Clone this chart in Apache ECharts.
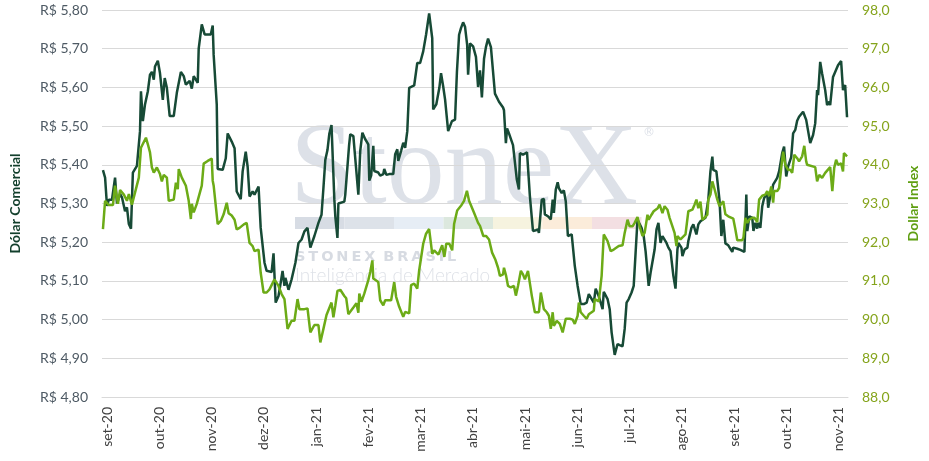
<!DOCTYPE html>
<html>
<head>
<meta charset="utf-8">
<title>Dólar Comercial x Dollar Index</title>
<script src="https://cdn.jsdelivr.net/npm/echarts@6.0.0/dist/echarts.min.js"></script>
<style>
  html, body { margin: 0; padding: 0; background: #fff; }
  #chart { width: 929px; height: 461px; }
</style>
</head>
<body>
<div id="chart"></div>
<script>
// x = trading-day index since the start of set-20 (one month label every 22 days)
var tickDays = [2, 24, 46, 68, 90, 112, 134, 156, 178, 200, 222, 244, 266, 288, 310];
var tickLabels = ['set-20', 'out-20', 'nov-20', 'dez-20', 'jan-21', 'fev-21', 'mar-21', 'abr-21',
    'mai-21', 'jun-21', 'jul-21', 'ago-21', 'set-21', 'out-21', 'nov-21'];

// Dólar comercial (R$), [day, value]
var brl = [
    [0.3,5.386],[1.2,5.367],[2.0,5.294],[2.8,5.31],[4.1,5.31],[5.4,5.367],[6.2,5.30],[7.5,5.325],[8.3,5.316],
    [9.6,5.28],[10.4,5.29],[11.2,5.247],[12.1,5.235],[12.9,5.38],[14.6,5.397],[15.9,5.487],[16.3,5.59],
    [17.1,5.513],[18.0,5.556],[19.2,5.59],[20.1,5.633],[20.9,5.64],[21.7,5.62],[22.2,5.654],[23.4,5.669],
    [24.3,5.637],[25.5,5.568],[26.3,5.624],[27.2,5.599],[28.4,5.526],[30.1,5.526],[31.4,5.586],[33.1,5.64],
    [34.3,5.629],[35.2,5.607],[36.8,5.617],[37.7,5.597],[38.5,5.629],[40.2,5.612],[40.6,5.70],[41.9,5.763],
    [42.7,5.763],[43.1,5.737],[45.7,5.737],[46.5,5.76],[46.9,5.684],[48.2,5.556],[48.6,5.389],[50.7,5.387],
    [52.0,5.417],[52.8,5.481],[54.5,5.46],[55.7,5.443],[56.6,5.331],[57.4,5.335],[58.3,5.311],[59.1,5.383],
    [60.4,5.434],[61.2,5.395],[62.0,5.318],[63.3,5.331],[64.1,5.323],[65.8,5.344],[66.7,5.237],[67.5,5.237],
    [68.3,5.147],[69.2,5.126],[71.3,5.123],[72.1,5.171],[73.0,5.044],[74.2,5.061],[75.0,5.091],[75.9,5.126],
    [76.7,5.087],[77.1,5.108],[78.4,5.077],[79.7,5.104],[81.3,5.147],[82.6,5.198],[83.9,5.207],[85.1,5.228],
    [86.4,5.237],[87.6,5.186],[89.3,5.216],[91.0,5.25],[92.3,5.271],[93.1,5.34],[93.9,5.413],[94.8,5.438],
    [95.6,5.481],[96.5,5.503],[97.7,5.31],[98.1,5.267],[99.0,5.211],[99.4,5.30],[100.2,5.305],[101.9,5.305],
    [102.3,5.323],[103.1,5.318],[103.9,5.45],[104.4,5.479],[105.7,5.474],[106.5,5.47],[107.8,5.323],
    [108.6,5.436],[109.5,5.483],[110.7,5.466],[112.0,5.453],[112.4,5.359],[113.2,5.372],[114.1,5.449],
    [114.5,5.384],[116.2,5.38],[117.0,5.372],[118.3,5.376],[118.7,5.389],[119.6,5.374],[120.8,5.376],
    [122.5,5.376],[123.3,5.427],[124.2,5.44],[124.6,5.41],[125.8,5.436],[126.7,5.457],[127.5,5.444],
    [128.4,5.487],[129.2,5.599],[130.0,5.603],[131.3,5.605],[132.6,5.663],[133.8,5.663],[135.1,5.693],
    [136.3,5.736],[137.6,5.791],[138.4,5.794],[138.9,5.727],[139.3,5.543],[140.6,5.556],[141.9,5.599],
    [142.6,5.637],[143.5,5.603],[144.3,5.569],[145.6,5.487],[147.2,5.513],[148.5,5.517],[149.3,5.641],
    [150.2,5.736],[151.0,5.753],[151.9,5.768],[152.7,5.757],[153.6,5.71],[154.0,5.633],[154.8,5.714],
    [156.1,5.706],[157.3,5.679],[158.2,5.601],[159.0,5.644],[159.8,5.574],[160.7,5.674],[161.5,5.704],
    [162.4,5.726],[163.6,5.704],[165.3,5.584],[167.0,5.563],[168.7,5.548],[169.1,5.541],[169.9,5.456],
    [170.4,5.494],[171.2,5.481],[172.9,5.451],[173.3,5.456],[174.5,5.362],[175.4,5.336],[175.8,5.43],
    [177.1,5.426],[177.9,5.422],[178.8,5.432],[179.2,5.43],[180.0,5.319],[181.3,5.229],[182.5,5.231],
    [183.4,5.233],[183.8,5.224],[185.0,5.31],[185.9,5.312],[186.3,5.272],[187.6,5.267],[188.8,5.259],
    [189.6,5.31],[190.1,5.276],[190.9,5.336],[191.7,5.355],[192.2,5.34],[193.4,5.327],[194.3,5.334],
    [195.1,5.306],[196.0,5.216],[197.6,5.22],[198.9,5.139],[200.1,5.087],[201.4,5.04],[202.7,5.04],
    [203.9,5.044],[204.8,5.066],[205.6,5.07],[206.9,5.044],[207.7,5.08],[209.0,5.06],[209.8,5.044],
    [210.6,5.027],[211.1,5.072],[212.7,5.053],[213.6,5.027],[214.4,4.967],[214.8,4.963],[215.7,4.909],
    [216.9,4.937],[217.8,4.934],[219.0,4.931],[219.9,4.976],[220.7,5.044],[221.6,5.053],[222.8,5.07],
    [223.7,5.087],[224.5,5.173],[225.3,5.258],[225.8,5.254],[227.0,5.237],[227.9,5.216],[228.7,5.177],
    [229.5,5.181],[230.0,5.087],[230.8,5.121],[231.6,5.121],[232.5,5.181],[233.3,5.233],[234.1,5.25],
    [235.0,5.198],[235.8,5.216],[236.2,5.211],[237.5,5.198],[238.3,5.186],[239.2,5.177],[240.0,5.177],
    [240.4,5.113],[241.3,5.08],[242.1,5.181],[242.5,5.198],[243.8,5.186],[244.2,5.164],[245.1,5.181],
    [246.3,5.186],[246.7,5.203],[248.0,5.237],[248.8,5.246],[250.1,5.22],[250.9,5.246],[251.8,5.254],
    [252.6,5.254],[253.9,5.263],[255.1,5.31],[256.0,5.383],[256.8,5.421],[257.2,5.387],[258.5,5.383],
    [259.3,5.383],[259.8,5.31],[260.6,5.216],[261.4,5.258],[262.3,5.197],[263.5,5.192],[265.2,5.175],
    [265.6,5.186],[267.3,5.183],[268.6,5.18],[270.3,5.175],[271.1,5.323],[271.5,5.229],[272.4,5.267],
    [273.6,5.263],[274.1,5.229],[274.9,5.25],[275.7,5.235],[276.1,5.25],[277.0,5.237],[277.8,5.293],
    [278.6,5.314],[279.9,5.327],[280.3,5.289],[281.2,5.319],[282.0,5.332],[282.4,5.349],[284.1,5.366],
    [284.9,5.383],[286.2,5.43],[287.0,5.447],[287.9,5.37],[288.7,5.396],[290.0,5.42],[290.8,5.481],
    [291.7,5.49],[292.5,5.514],[293.3,5.524],[295.0,5.537],[296.3,5.516],[297.1,5.511],[298.0,5.456],
    [299.2,5.477],[300.1,5.507],[300.9,5.593],[301.3,5.58],[302.2,5.666],[303.0,5.636],[304.3,5.593],
    [305.1,5.554],[306.0,5.563],[306.4,5.554],[307.6,5.627],[308.5,5.64],[309.7,5.657],[311.0,5.668],
    [311.4,5.668],[311.8,5.593],[312.7,5.606],[313.5,5.523]
];

// Dollar Index (DXY), [day, value]
var dxy = [
    [0.3,92.34],[1.2,93.07],[2.8,92.96],[4.5,92.96],[5.4,93.46],[6.6,92.99],[7.5,93.35],[9.1,93.23],
    [10.4,93.07],[11.2,93.24],[12.5,92.97],[13.3,92.99],[15.4,93.67],[16.3,94.44],[17.1,94.40],[18.4,94.70],
    [19.2,94.53],[20.1,94.32],[20.9,93.93],[21.7,93.80],[23.0,93.93],[24.3,93.76],[25.1,93.57],[25.9,93.74],
    [27.2,93.67],[28.0,93.07],[30.1,93.10],[31.0,93.54],[31.8,93.37],[32.2,93.89],[33.5,93.67],[35.2,93.46],
    [36.4,93.07],[37.3,92.60],[37.7,92.99],[38.5,92.77],[39.8,92.99],[40.6,92.94],[41.9,93.46],[42.7,94.03],
    [44.4,94.10],[46.1,94.16],[46.5,93.59],[46.9,93.46],[48.6,92.47],[49.9,92.55],[51.1,92.72],[52.4,93.02],
    [53.2,92.75],[54.5,92.69],[55.7,92.58],[56.6,92.33],[57.8,92.37],[59.6,92.46],[60.8,92.50],[62.0,91.98],
    [63.3,91.90],[64.1,91.77],[65.8,91.81],[66.7,91.21],[67.9,90.70],[69.2,90.70],[70.4,90.78],[72.5,91.04],
    [74.2,90.87],[75.5,90.66],[76.7,90.53],[78.0,89.76],[79.7,89.97],[80.9,89.97],[82.2,90.53],[83.0,90.27],
    [85.1,90.27],[86.4,90.29],[87.6,89.67],[89.3,89.86],[91.0,89.86],[91.8,89.41],[93.1,89.76],[94.4,90.12],
    [96.5,90.44],[97.3,90.06],[98.1,90.36],[99.0,90.74],[100.2,90.77],[101.9,90.61],[102.7,90.55],
    [103.6,90.14],[104.4,90.16],[105.7,90.31],[107.0,90.42],[107.8,90.18],[108.2,90.67],[109.1,90.46],
    [110.3,90.67],[112.0,91.02],[112.8,91.23],[113.7,91.53],[114.1,91.06],[116.2,90.97],[117.0,90.50],
    [118.3,90.37],[119.1,90.50],[121.6,90.50],[122.9,90.97],[123.7,90.59],[125.0,90.33],[126.7,90.07],
    [127.5,90.20],[129.2,90.16],[130.0,90.89],[131.3,90.93],[132.6,90.80],[133.4,91.27],[135.1,91.96],
    [136.3,92.22],[137.6,92.34],[138.9,91.70],[139.7,91.79],[141.5,91.68],[143.1,91.92],[144.0,91.62],
    [144.8,91.96],[146.1,91.96],[147.3,91.79],[148.1,92.47],[149.4,92.82],[151.0,92.94],[152.3,93.07],
    [153.5,93.33],[154.4,93.07],[155.2,93.02],[156.5,92.76],[158.2,92.50],[159.0,92.42],[160.4,92.16],
    [161.6,92.16],[162.8,92.07],[164.1,91.73],[165.4,91.56],[166.6,91.34],[167.4,91.13],[168.7,91.17],
    [169.1,91.34],[170.0,91.13],[170.8,90.87],[172.0,90.83],[173.3,90.87],[174.1,90.62],[175.0,90.87],
    [176.2,91.26],[177.1,91.17],[177.9,91.04],[179.2,91.26],[179.6,91.22],[180.8,90.62],[182.1,90.19],
    [183.8,90.19],[184.6,90.70],[185.9,90.27],[187.1,90.19],[188.0,90.10],[188.8,89.76],[189.6,90.19],
    [190.1,89.84],[191.3,89.97],[192.6,89.89],[193.8,89.67],[195.1,90.02],[196.8,90.02],[198.0,90.00],
    [198.9,89.89],[200.1,90.10],[200.6,90.44],[201.4,90.19],[202.7,90.10],[203.9,90.02],[204.8,90.14],
    [205.6,90.19],[206.9,90.23],[207.3,90.53],[209.0,90.47],[210.2,91.13],[211.1,92.20],[212.7,92.03],
    [214.0,91.77],[215.3,91.81],[217.4,91.90],[219.0,91.92],[219.9,92.24],[221.1,92.58],[222.0,92.41],
    [223.2,92.41],[224.1,92.50],[225.3,92.65],[226.2,92.41],[227.4,92.16],[228.3,92.24],[229.5,92.71],
    [230.0,92.58],[231.2,92.71],[232.1,92.80],[233.8,92.88],[234.6,92.97],[235.8,92.75],[236.7,92.93],
    [237.9,92.84],[238.8,92.63],[240.0,92.41],[240.9,92.24],[241.7,91.90],[242.1,92.16],[243.4,92.07],
    [244.2,92.07],[245.5,92.20],[245.9,92.24],[246.7,92.80],[248.4,92.84],[249.3,92.97],[250.1,93.10],
    [250.9,92.88],[251.8,93.05],[252.6,92.58],[253.5,92.63],[254.7,92.71],[255.1,93.10],[256.0,93.23],
    [256.8,93.57],[257.6,93.40],[258.9,93.10],[259.8,92.93],[260.6,92.95],[261.4,93.06],[262.3,92.72],
    [263.5,92.67],[265.6,92.61],[266.5,92.33],[267.3,92.05],[269.4,92.05],[269.9,92.12],[270.7,92.63],
    [271.5,92.50],[272.4,92.59],[273.6,92.63],[274.5,92.63],[275.7,92.52],[276.5,93.10],[277.8,93.20],
    [279.1,93.23],[279.9,93.32],[280.7,93.19],[281.6,93.44],[282.4,93.02],[282.8,93.32],[284.1,93.32],
    [284.9,93.40],[285.8,93.92],[286.6,94.34],[287.5,94.00],[288.7,93.87],[289.6,93.87],[290.4,93.79],
    [291.3,94.26],[292.5,94.17],[293.3,94.09],[294.6,94.22],[295.5,94.49],[296.3,94.09],[296.7,94.00],
    [297.5,93.96],[300.1,93.94],[300.9,93.57],[301.8,93.74],[303.0,93.66],[304.3,93.79],[305.1,93.83],
    [306.4,93.94],[307.3,93.32],[308.1,93.92],[308.9,94.13],[309.7,94.00],[311.0,94.04],[311.8,93.83],
    [312.2,94.30],[313.5,94.22]
];

var chart = echarts.init(document.getElementById('chart'));

// StoneX watermark behind the plot
var bandColors = ['#d7dce4', '#dde2e9', '#e6edf5', '#dce8de', '#f6f3df', '#fbecda', '#f3dfe2'];
var watermark = [
    {
        type: 'text', z: -10, left: 290, top: 115,
        style: { text: 'StoneX', font: '116px "Liberation Serif", serif', fill: '#dde1e8' }
    },
    {
        type: 'text', z: -10, left: 643, top: 127,
        style: { text: '®', font: '12px "DejaVu Sans", sans-serif', fill: '#dde1e8' }
    },
    {
        type: 'text', z: -10, left: 295, top: 250,
        style: { text: 'S\u2009T\u2009O\u2009N\u2009E\u2009X\u2009 B\u2009R\u2009A\u2009S\u2009I\u2009L', font: 'bold 14.5px "DejaVu Sans", sans-serif', fill: '#d7dbe2' }
    },
    {
        type: 'text', z: -10, left: 295, top: 266,
        style: { text: 'Inteligência de Mercado', font: '300 19px Lato, sans-serif', fill: '#dfe2e8' }
    }
];
bandColors.forEach(function (c, i) {
    watermark.push({
        type: 'rect', z: -10,
        shape: { x: 295 + i * 49.5, y: 217, width: 49.5, height: 12 },
        style: { fill: c }
    });
});

var option = {
    animation: false,
    backgroundColor: '#ffffff',
    textStyle: { fontFamily: 'Lato, "Open Sans", sans-serif' },
    grid: { left: 100, right: 81, top: 10, bottom: 64 },
    graphic: { elements: watermark },
    xAxis: {
        type: 'value',
        min: -0.1,
        max: 313.9,
        splitLine: { show: false },
        axisLine: { show: true, lineStyle: { color: '#d9d9d9', width: 1 } },
        axisTick: { show: false },
        axisLabel: {
            customValues: tickDays,
            rotate: 90,
            margin: 10,
            color: '#404040',
            fontSize: 14,
            formatter: function (v) {
                var i = tickDays.indexOf(Math.round(v));
                return i >= 0 ? tickLabels[i] : '';
            }
        }
    },
    yAxis: [
        {
            type: 'value',
            min: 4.8,
            max: 5.8,
            interval: 0.1,
            position: 'left',
            name: 'Dólar Comercial',
            nameLocation: 'middle',
            nameGap: 80,
            nameTextStyle: { color: '#123f2c', fontWeight: 'bold', fontSize: 14 },
            axisLine: { show: false },
            axisTick: { show: false },
            splitLine: { lineStyle: { color: '#d9d9d9', width: 1 } },
            axisLabel: {
                margin: 14,
                color: '#4e5a64',
                fontSize: 14,
                formatter: function (v) { return 'R$ ' + v.toFixed(2).replace('.', ','); }
            }
        },
        {
            type: 'value',
            min: 88,
            max: 98,
            interval: 1,
            position: 'right',
            name: 'Dollar Index',
            nameLocation: 'middle',
            nameGap: 58,
            nameTextStyle: { color: '#5f9f12', fontWeight: 'bold', fontSize: 14 },
            axisLine: { show: false },
            axisTick: { show: false },
            splitLine: { show: false },
            axisLabel: {
                margin: 14,
                color: '#85a41c',
                fontSize: 14,
                formatter: function (v) { return v.toFixed(1).replace('.', ','); }
            }
        }
    ],
    series: [
        {
            name: 'Dólar Comercial',
            type: 'line',
            yAxisIndex: 0,
            data: brl,
            showSymbol: false,
            lineStyle: { color: '#174a36', width: 2.5 }
        },
        {
            name: 'Dollar Index',
            type: 'line',
            yAxisIndex: 1,
            data: dxy,
            showSymbol: false,
            lineStyle: { color: '#6cab17', width: 2.5 }
        }
    ]
};

chart.setOption(option);
</script>
</body>
</html>
